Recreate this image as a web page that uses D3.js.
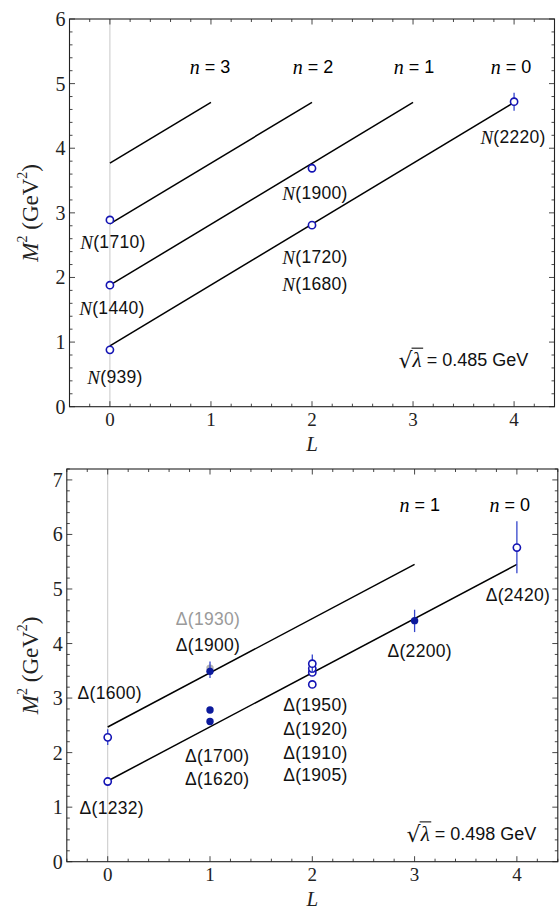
<!DOCTYPE html>
<html><head><meta charset="utf-8">
<script src="https://cdn.jsdelivr.net/npm/d3@7"></script>
<style>body{margin:0;background:#fff}svg{display:block}</style>
</head><body>
<script>
// ---------- Top panel (nucleons) ----------
const nucL   = [0, 0, 0, 2, 2, 4];
const nucM2  = [0.88, 1.88, 2.89, 2.81, 3.69, 4.72];
const nucErr = [0, 0, 0, 0, 0, 0.14];
const nucTrajN  = [0, 1, 2, 3];
const nucTrajL1 = [4, 3, 2, 1];
const nucTrajM0 = [0.94, 1.88, 2.83, 3.77];
const nucTrajM1 = [4.71, 4.71, 4.71, 4.71];
const nucLabels = ["N(1710)", "N(1440)", "N(939)", "N(1900)", "N(1720)", "N(1680)", "N(2220)"];
const nucLabelL = [0.03, 0.02, 0.05, 2.03, 2.03, 2.03, 3.99];
const nucLabelM = [2.55, 1.53, 0.46, 3.30, 2.31, 1.90, 4.18];
const nucNLabelL = [0.99, 2.01, 3.01, 3.97];
const nucNLabelM = 5.26;
const nucLambda = "0.485";
const nucYTicks = [0, 1, 2, 3, 4, 5, 6];

// ---------- Bottom panel (Deltas) ----------
const delL    = [0, 0, 1, 1, 1, 1, 2, 2, 2, 2, 3, 4];
const delM2   = [1.47, 2.28, 2.57, 2.78, 3.55, 3.49, 3.25, 3.47, 3.54, 3.63, 4.42, 5.76];
const delLo   = [1.47, 2.14, 2.57, 2.74, 3.55, 3.37, 3.19, 3.47, 3.54, 3.46, 4.21, 5.29];
const delHi   = [1.47, 2.43, 2.57, 2.82, 3.55, 3.67, 3.30, 3.47, 3.54, 3.80, 4.62, 6.24];
const delKind = ["open","open","fill","fill","gray","fill","open","open","open","open","fill","open"];
const delTrajN  = [0, 1];
const delTrajL1 = [4, 3];
const delTrajM0 = [1.48, 2.47];
const delTrajM1 = [5.45, 5.45];
const delLabels = ["Δ(1600)","Δ(1232)","Δ(1930)","Δ(1900)","Δ(1700)","Δ(1620)","Δ(1950)","Δ(1920)","Δ(1910)","Δ(1905)","Δ(2200)","Δ(2420)"];
const delLabelL = [0.02, 0.04, 0.98, 0.98, 1.07, 1.07, 2.03, 2.03, 2.03, 2.03, 3.05, 4.01];
const delLabelM = [3.09, 0.98, 4.45, 3.98, 1.94, 1.51, 2.88, 2.43, 2.00, 1.59, 3.87, 4.89];
const delLabelGray = [false,false,true,false,false,false,false,false,false,false,false,false];
const delNLabelL = [3.05, 3.93];
const delNLabelM = 6.54;
const delLambda = "0.498";
const delYTicks = [0, 1, 2, 3, 4, 5, 6, 7];

const xTicks = [0, 1, 2, 3, 4];

const W = 559, H = 912;
const svg = d3.select("body").append("svg").attr("width", W).attr("height", H);

const SERIF = "'Liberation Serif','Times New Roman',serif";
const SANS = "'Liberation Sans',Arial,Helvetica,sans-serif";
const BLUE = "#1414b4", BLUEFILL = "#0c1a9c", ERR = "#3445cc";

function panel(cfg) {
  const x = d3.scaleLinear().domain([-0.4, 4.4]).range(cfg.xr);
  const y = d3.scaleLinear().domain([0, cfg.ymax]).range(cfg.yr);
  const g = svg.append("g");
  const [x0, x1] = cfg.xr, [y0, y1] = cfg.yr;

  g.append("line").attr("x1", x(0)).attr("x2", x(0)).attr("y1", y0).attr("y2", y1)
    .attr("stroke", "#c8c8c8").attr("stroke-width", 1);

  const minorX = d3.range(-0.4, 4.41, 0.2).map(v => Math.round(v * 10) / 10);
  const minorY = d3.range(0, cfg.ymax + 0.001, 0.2).map(v => Math.round(v * 10) / 10);
  const isMaj = v => Math.abs(v - Math.round(v)) < 1e-6;
  const tk = g.append("g").attr("stroke", "#333").attr("stroke-width", 0.9);
  minorX.forEach(v => {
    const len = isMaj(v) ? 5.5 : 3;
    tk.append("line").attr("x1", x(v)).attr("x2", x(v)).attr("y1", y0).attr("y2", y0 - len);
    tk.append("line").attr("x1", x(v)).attr("x2", x(v)).attr("y1", y1).attr("y2", y1 + len);
  });
  minorY.forEach(v => {
    const len = isMaj(v) ? 5.5 : 3;
    tk.append("line").attr("y1", y(v)).attr("y2", y(v)).attr("x1", x0).attr("x2", x0 + len);
    tk.append("line").attr("y1", y(v)).attr("y2", y(v)).attr("x1", x1).attr("x2", x1 - len);
  });

  g.append("rect").attr("x", x0).attr("y", y1).attr("width", x1 - x0).attr("height", y0 - y1)
    .attr("fill", "none").attr("stroke", "#222").attr("stroke-width", 1.1);

  g.selectAll(".xt").data(xTicks).enter().append("text")
    .attr("x", d => x(d)).attr("y", y0 + 13).attr("text-anchor", "middle")
    .attr("dominant-baseline", "central").attr("font-family", SERIF).attr("font-size", 19)
    .attr("fill", "#222").text(d => d);
  g.selectAll(".yt").data(cfg.yticks).enter().append("text")
    .attr("x", x0 - 4).attr("y", d => y(d)).attr("text-anchor", "end")
    .attr("dominant-baseline", "central").attr("font-family", SERIF).attr("font-size", 20)
    .attr("fill", "#222").text(d => d);

  g.append("text").attr("x", (x0 + x1) / 2).attr("y", y0 + 37).attr("text-anchor", "middle")
    .attr("dominant-baseline", "central").attr("font-family", SERIF).attr("font-style", "italic")
    .attr("font-size", 21).attr("fill", "#222").text("L");
  const yt = g.append("text").attr("transform", `translate(${cfg.ytx},${(y0 + y1) / 2}) rotate(-90)`)
    .attr("text-anchor", "middle").attr("dominant-baseline", "central")
    .attr("font-family", SERIF).attr("font-size", 23).attr("fill", "#222");
  yt.append("tspan").attr("font-style", "italic").text("M");
  yt.append("tspan").attr("font-size", 14).attr("dy", -8).text("2");
  yt.append("tspan").attr("dy", 8).text(" (GeV");
  yt.append("tspan").attr("font-size", 14).attr("dy", -8).text("2");
  yt.append("tspan").attr("dy", 8).text(")");

  cfg.trajN.forEach((n, i) => {
    g.append("line").attr("x1", x(0)).attr("y1", y(cfg.trajM0[i]))
      .attr("x2", x(cfg.trajL1[i])).attr("y2", y(cfg.trajM1[i]))
      .attr("stroke", "#000").attr("stroke-width", 1.5);
  });

  cfg.trajN.slice().reverse().forEach((n, i) => {
    const t = g.append("text").attr("x", x(cfg.nLabelL[i])).attr("y", y(cfg.nLabelM))
      .attr("text-anchor", "middle").attr("dominant-baseline", "central")
      .attr("font-size", 18).attr("fill", "#000").attr("xml:space", "preserve");
    t.append("tspan").attr("font-family", SERIF).attr("font-style", "italic").attr("font-size", 20).text("n");
    t.append("tspan").attr("font-family", SANS).text(" = " + n);
  });

  cfg.labels.forEach((lab, i) => {
    const t = g.append("text").attr("x", x(cfg.labelL[i])).attr("y", y(cfg.labelM[i]))
      .attr("text-anchor", "middle").attr("dominant-baseline", "central")
      .attr("font-family", SANS).attr("font-size", 17.5).attr("letter-spacing", 0.3)
      .attr("fill", cfg.labelGray && cfg.labelGray[i] ? "#9a9a9a" : "#111");
    if (lab[0] === "N") {
      t.append("tspan").attr("font-family", SERIF).attr("font-style", "italic").attr("font-size", 19).text("N");
      t.append("tspan").text(lab.slice(1));
    } else {
      t.text(lab);
    }
  });

  const lt = g.append("text").attr("x", x(cfg.lamL)).attr("y", y(cfg.lamM))
    .attr("text-anchor", "end").attr("dominant-baseline", "central")
    .attr("font-family", SANS).attr("font-size", 18).attr("fill", "#111");
  lt.append("tspan").attr("font-family", "'DejaVu Serif',serif").attr("font-size", 22).text("√");
  lt.append("tspan").attr("font-family", SERIF).attr("font-style", "italic").attr("font-size", 21).text("λ");
  lt.append("tspan").text(" = " + cfg.lambda + " GeV");
  const node = lt.node();
  const s = node.getStartPositionOfChar(1), e = node.getEndPositionOfChar(1);
  g.append("line").attr("x1", s.x - 1).attr("x2", e.x + 1.5)
    .attr("y1", y(cfg.lamM) - 12).attr("y2", y(cfg.lamM) - 12)
    .attr("stroke", "#111").attr("stroke-width", 1.1);

  return { g, x, y };
}

const topP = panel({
  xr: [69.5, 554.5], yr: [406.7, 19], ymax: 6, yticks: nucYTicks, ytx: 30,
  trajN: nucTrajN, trajL1: nucTrajL1, trajM0: nucTrajM0, trajM1: nucTrajM1,
  nLabelL: nucNLabelL, nLabelM: nucNLabelM,
  labels: nucLabels, labelL: nucLabelL, labelM: nucLabelM,
  lamL: 4.14, lamM: 0.72, lambda: nucLambda
});
nucL.forEach((L, i) => {
  if (nucErr[i] > 0) {
    topP.g.append("line").attr("x1", topP.x(L)).attr("x2", topP.x(L))
      .attr("y1", topP.y(nucM2[i] - nucErr[i])).attr("y2", topP.y(nucM2[i] + nucErr[i]))
      .attr("stroke", ERR).attr("stroke-width", 1.3);
  }
  topP.g.append("circle").attr("cx", topP.x(L)).attr("cy", topP.y(nucM2[i])).attr("r", 3.6)
    .attr("fill", "#fff").attr("stroke", BLUE).attr("stroke-width", 1.6);
});

const botP = panel({
  xr: [66.8, 557.8], yr: [861.7, 469], ymax: 7.2, yticks: delYTicks, ytx: 30,
  trajN: delTrajN, trajL1: delTrajL1, trajM0: delTrajM0, trajM1: delTrajM1,
  nLabelL: delNLabelL, nLabelM: delNLabelM,
  labels: delLabels, labelL: delLabelL, labelM: delLabelM, labelGray: delLabelGray,
  lamL: 4.19, lamM: 0.51, lambda: delLambda
});
const order = d3.range(delL.length).sort((a, b) => (delKind[a] === "gray" ? -1 : 0) - (delKind[b] === "gray" ? -1 : 0));
order.forEach(i => {
  const L = delL[i], k = delKind[i];
  if (delHi[i] - delLo[i] > 0.001) {
    botP.g.append("line").attr("x1", botP.x(L)).attr("x2", botP.x(L))
      .attr("y1", botP.y(delLo[i])).attr("y2", botP.y(delHi[i]))
      .attr("stroke", k === "gray" ? "#aaa" : ERR).attr("stroke-width", 1.3);
  }
  const c = botP.g.append("circle").attr("cx", botP.x(L)).attr("cy", botP.y(delM2[i]));
  if (k === "open") c.attr("r", 3.6).attr("fill", "#fff").attr("stroke", BLUE).attr("stroke-width", 1.6);
  else if (k === "fill") c.attr("r", 3.7).attr("fill", BLUEFILL);
  else c.attr("r", 3.7).attr("fill", "#b4b4b4");
});
</script>
</body></html>
